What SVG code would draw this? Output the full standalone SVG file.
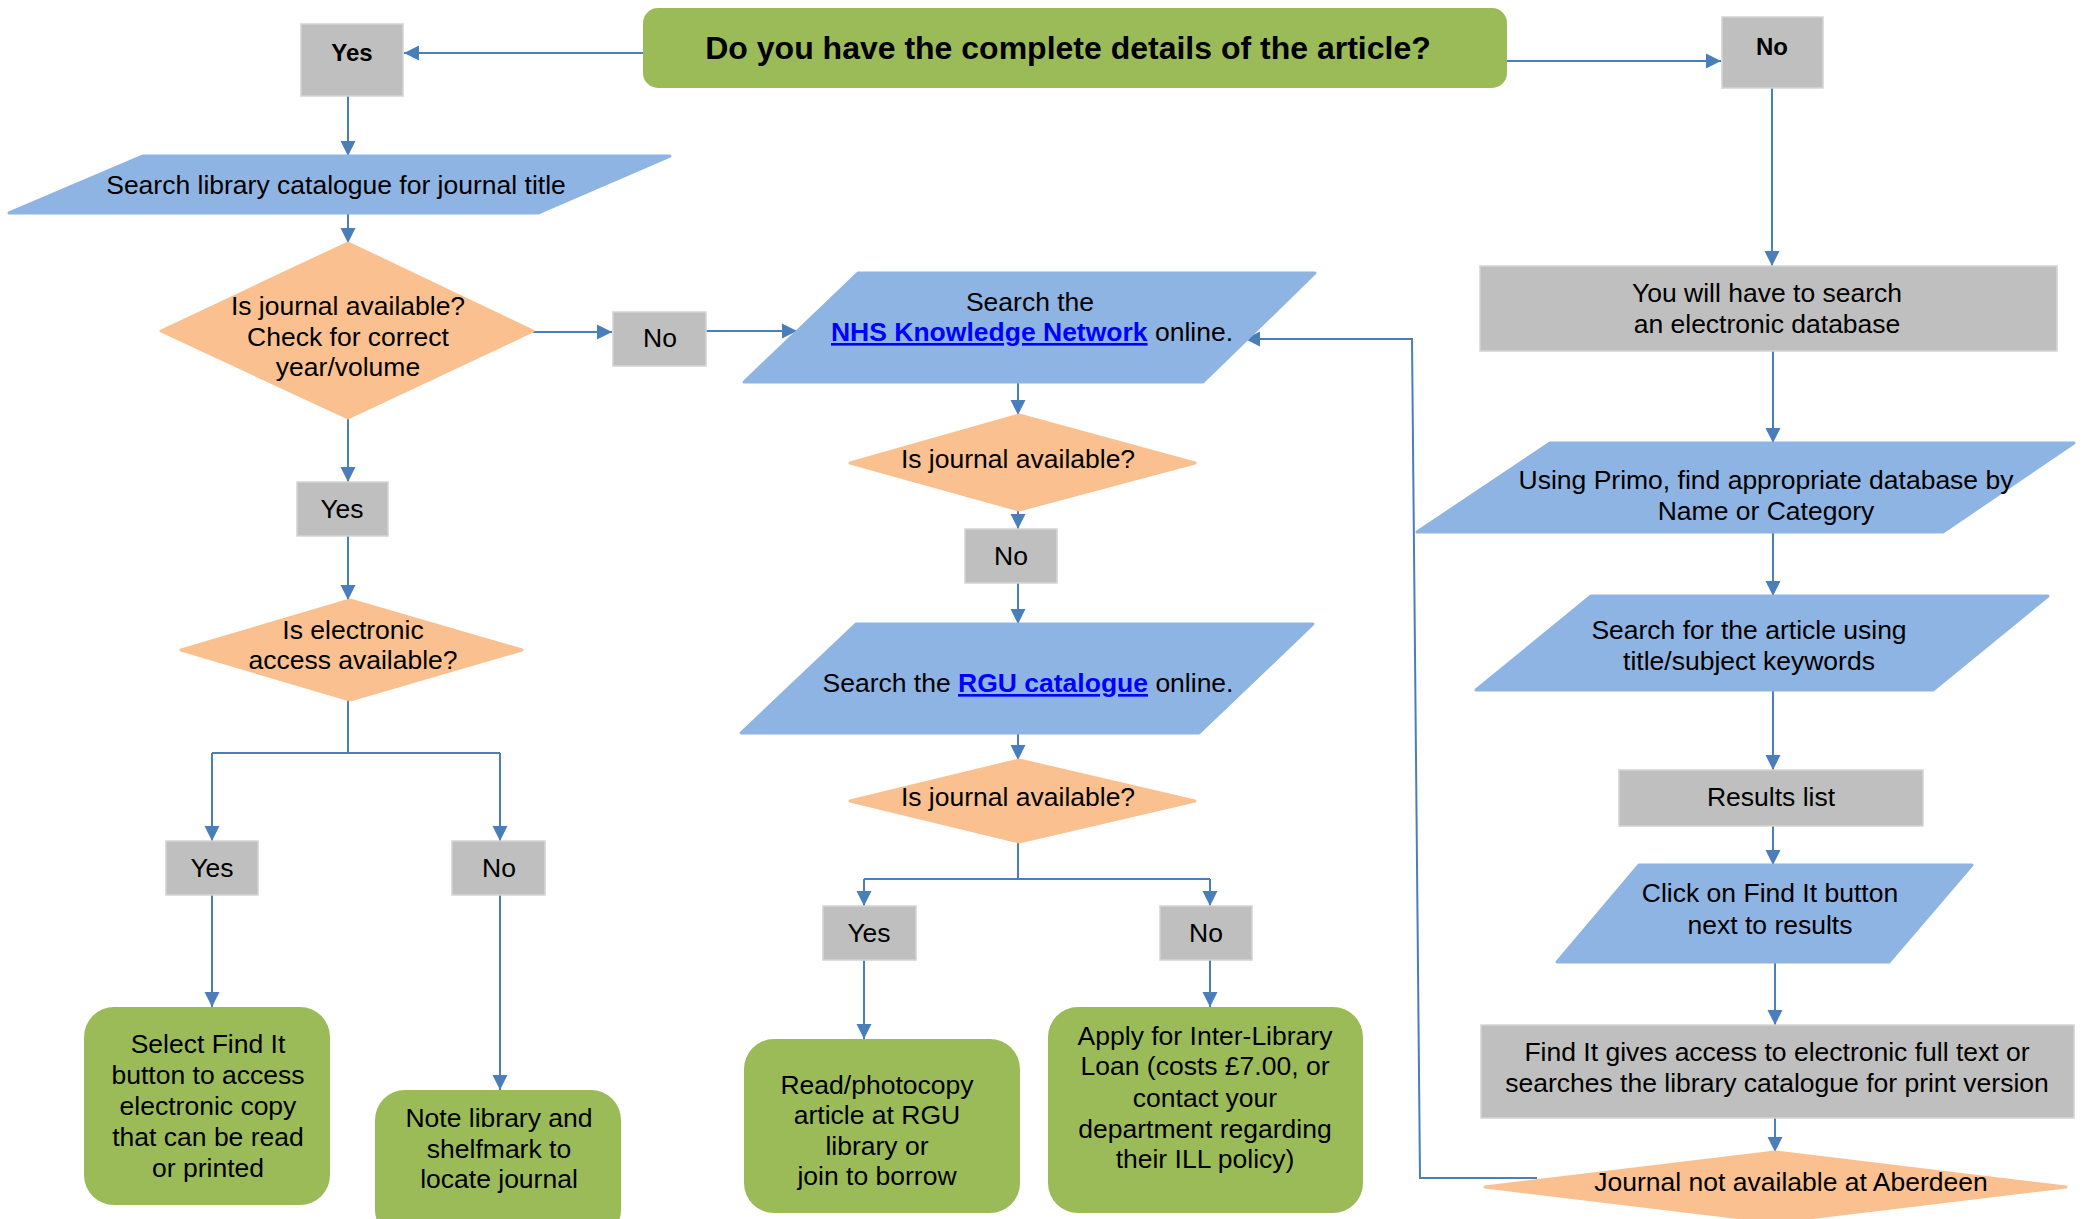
<svg xmlns="http://www.w3.org/2000/svg" width="2082" height="1219" viewBox="0 0 2082 1219">
<style>
.gr{fill:#BFBFBF;stroke:#D4D4D4;stroke-width:1.5}
.gn{fill:#9BBB59}
.bl{fill:#8EB4E3;stroke:#8EB4E3;stroke-width:3;stroke-linejoin:round}
.or{fill:#FAC090;stroke:#FAC090;stroke-width:3;stroke-linejoin:round}
text{font-family:"Liberation Sans",Arial,sans-serif;font-size:26.5px;fill:#000;text-anchor:middle}
.b{font-weight:bold}
.lk{font-weight:bold;fill:#0000FF;text-decoration:underline}
.c{fill:none;stroke:#4A7EBB;stroke-width:2}
.a{marker-end:url(#ah)}
</style>
<defs>
<marker id="ah" markerUnits="userSpaceOnUse" markerWidth="16" markerHeight="16" refX="15" refY="8" orient="auto">
<path d="M0,0.5 L15,8 L0,15.5 z" fill="#4A7EBB"/>
</marker>
</defs>

<g id="connectors">
<path class="c a" d="M643,53 H404"/>
<path class="c a" d="M1507,61 H1721"/>
<path class="c a" d="M348,96 V156"/>
<path class="c a" d="M348,213 V243"/>
<path class="c a" d="M533,332 H612"/>
<path class="c a" d="M706,331 H797"/>
<path class="c a" d="M348,418 V482"/>
<path class="c a" d="M348,536 V600"/>
<path class="c" d="M348,700 V753 M212,753 H500"/>
<path class="c a" d="M212,753 V841"/>
<path class="c a" d="M500,753 V841"/>
<path class="c a" d="M212,895 V1007"/>
<path class="c a" d="M500,895 V1090"/>
<path class="c a" d="M1018,382 V415"/>
<path class="c a" d="M1018,509 V529"/>
<path class="c a" d="M1018,583 V624"/>
<path class="c a" d="M1018,733 V760"/>
<path class="c" d="M1018,842 V879 M864,879 H1210"/>
<path class="c a" d="M864,879 V906"/>
<path class="c a" d="M1210,879 V906"/>
<path class="c a" d="M864,960 V1039"/>
<path class="c a" d="M1210,960 V1007"/>
<path class="c a" d="M1772,88 V266"/>
<path class="c a" d="M1773,351 V443"/>
<path class="c a" d="M1773,532 V596"/>
<path class="c a" d="M1773,690 V770"/>
<path class="c a" d="M1773,826 V865"/>
<path class="c a" d="M1775,962 V1025"/>
<path class="c a" d="M1775,1118 V1152"/>
<path class="c a" d="M1537,1178 H1420 L1412,339 H1245"/>
</g>

<g id="start">
<rect class="gn" x="643" y="8" width="864" height="80" rx="15"/>
<text class="b" x="1068" y="59" style="font-size:32px">Do you have the complete details of the article?</text>
</g>

<g id="yes-top">
<rect class="gr" x="301" y="24" width="102" height="72"/>
<text class="b" x="352" y="61" style="font-size:24px">Yes</text>
</g>

<g id="no-top">
<rect class="gr" x="1722" y="17" width="101" height="71"/>
<text class="b" x="1772" y="55" style="font-size:24px">No</text>
</g>

<g id="search-catalogue">
<polygon class="bl" points="143,156 670,156 538,213 9,213"/>
<text x="336" y="194">Search library catalogue for journal title</text>
</g>

<g id="journal-available-1">
<polygon class="or" points="348,243 533,331 348,418 161,331"/>
<text x="348" y="315">Is journal available?</text>
<text x="348" y="346">Check for correct</text>
<text x="348" y="376">year/volume</text>
</g>

<g id="no-2">
<rect class="gr" x="613" y="312" width="93" height="54"/>
<text x="660" y="347">No</text>
</g>

<g id="yes-2">
<rect class="gr" x="297" y="482" width="91" height="54"/>
<text x="342" y="518">Yes</text>
</g>

<g id="electronic-access">
<polygon class="or" points="350,600 522,650 350,700 181,650"/>
<text x="353" y="639">Is electronic</text>
<text x="353" y="669">access available?</text>
</g>

<g id="yes-3">
<rect class="gr" x="166" y="841" width="92" height="54"/>
<text x="212" y="877">Yes</text>
</g>

<g id="no-3">
<rect class="gr" x="452" y="841" width="93" height="54"/>
<text x="499" y="877">No</text>
</g>

<g id="select-find-it">
<rect class="gn" x="84" y="1007" width="246" height="198" rx="30"/>
<text x="208" y="1053">Select Find It</text>
<text x="208" y="1084">button to access</text>
<text x="208" y="1115">electronic copy</text>
<text x="208" y="1146">that can be read</text>
<text x="208" y="1177">or printed</text>
</g>

<g id="note-library">
<rect class="gn" x="375" y="1090" width="246" height="150" rx="30"/>
<text x="499" y="1127">Note library and</text>
<text x="499" y="1158">shelfmark to</text>
<text x="499" y="1188">locate journal</text>
</g>

<g id="search-nhs">
<polygon class="bl" points="858,273 1315,273 1203,382 744,382"/>
<text x="1030" y="311">Search the</text>
<text x="1032" y="341"><tspan class="lk">NHS Knowledge Network</tspan> online.</text>
</g>

<g id="journal-available-2">
<polygon class="or" points="1019,415 1195,463 1019,510 850,463"/>
<text x="1018" y="468">Is journal available?</text>
</g>

<g id="no-4">
<rect class="gr" x="965" y="529" width="92" height="54"/>
<text x="1011" y="565">No</text>
</g>

<g id="search-rgu">
<polygon class="bl" points="856,624 1313,624 1199,733 741,733"/>
<text x="1028" y="692">Search the <tspan class="lk">RGU catalogue</tspan> online.</text>
</g>

<g id="journal-available-3">
<polygon class="or" points="1019,760 1195,801 1019,842 850,801"/>
<text x="1018" y="806">Is journal available?</text>
</g>

<g id="yes-5">
<rect class="gr" x="823" y="906" width="93" height="54"/>
<text x="869" y="942">Yes</text>
</g>

<g id="no-5">
<rect class="gr" x="1160" y="906" width="92" height="54"/>
<text x="1206" y="942">No</text>
</g>

<g id="read-photocopy">
<rect class="gn" x="744" y="1039" width="276" height="174" rx="30"/>
<text x="877" y="1094">Read/photocopy</text>
<text x="877" y="1124">article at RGU</text>
<text x="877" y="1155">library or</text>
<text x="877" y="1185">join to borrow</text>
</g>

<g id="inter-library-loan">
<rect class="gn" x="1048" y="1007" width="315" height="206" rx="30"/>
<text x="1205" y="1045">Apply for Inter-Library</text>
<text x="1205" y="1075">Loan (costs £7.00, or</text>
<text x="1205" y="1107">contact your</text>
<text x="1205" y="1138">department regarding</text>
<text x="1205" y="1168">their ILL policy)</text>
</g>

<g id="electronic-database">
<rect class="gr" x="1480" y="266" width="577" height="85"/>
<text x="1767" y="302">You will have to search</text>
<text x="1767" y="333">an electronic database</text>
</g>

<g id="primo">
<polygon class="bl" points="1550,443 2074,443 1943,532 1417,532"/>
<text x="1766" y="489">Using Primo, find appropriate database by</text>
<text x="1766" y="520">Name or Category</text>
</g>

<g id="search-article">
<polygon class="bl" points="1591,596 2048,596 1933,690 1476,690"/>
<text x="1749" y="639">Search for the article using</text>
<text x="1749" y="670">title/subject keywords</text>
</g>

<g id="results-list">
<rect class="gr" x="1619" y="770" width="304" height="56"/>
<text x="1771" y="806">Results list</text>
</g>

<g id="click-find-it">
<polygon class="bl" points="1639,865 1972,865 1889,962 1557,962"/>
<text x="1770" y="902">Click on Find It button</text>
<text x="1770" y="934">next to results</text>
</g>

<g id="find-it-access">
<rect class="gr" x="1481" y="1025" width="593" height="93"/>
<text x="1777" y="1061">Find It gives access to electronic full text or</text>
<text x="1777" y="1092">searches the library catalogue for print version</text>
</g>

<g id="not-available">
<polygon class="or" points="1775,1152 2066,1187 1775,1222 1485,1187"/>
<text x="1791" y="1191">Journal not available at Aberdeen</text>
</g>
</svg>
